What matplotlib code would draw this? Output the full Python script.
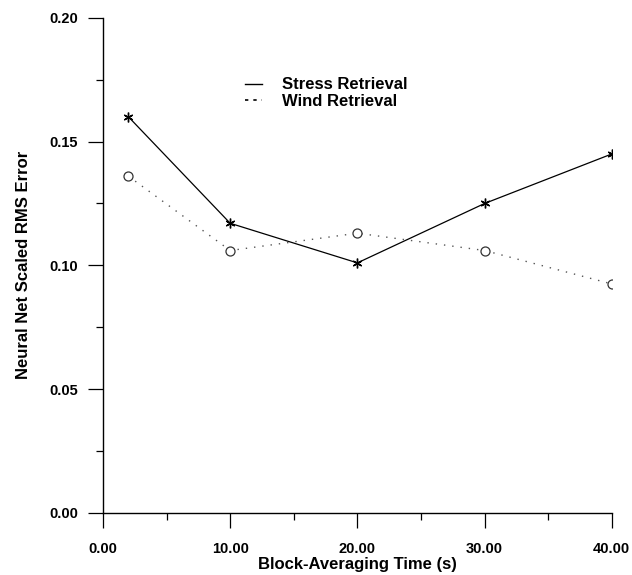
import numpy as np
import matplotlib
matplotlib.use('Agg')
import matplotlib.pyplot as plt
from matplotlib.lines import Line2D
from matplotlib.ticker import MultipleLocator, FormatStrFormatter

plt.rcParams['font.family'] = ['Liberation Sans', 'DejaVu Sans']

# block-averaging time (s)
block_time = [2, 10, 20, 30, 40]
stress_err = [0.160, 0.117, 0.101, 0.125, 0.145]
wind_err = [0.136, 0.106, 0.113, 0.106, 0.0925]

fig = plt.figure(figsize=(6.32, 5.75), dpi=100)
ax = fig.add_axes([0.163, 0.108, 0.805, 0.861])

ax.plot(block_time, stress_err, color='black', lw=0.9,
        marker=(6, 2, 0), ms=7, mew=1.0)
ax.plot(block_time, wind_err, color='#555555', lw=1.0, ls=(0, (1, 5)),
        marker='o', ms=6.5, mfc='white', mec='#333333', mew=0.9)

ax.set_xlim(0, 40)
ax.set_ylim(0, 0.20)
ax.xaxis.set_major_locator(MultipleLocator(10))
ax.xaxis.set_minor_locator(MultipleLocator(5))
ax.yaxis.set_major_locator(MultipleLocator(0.05))
ax.yaxis.set_minor_locator(MultipleLocator(0.025))
ax.xaxis.set_major_formatter(FormatStrFormatter('%.2f'))
ax.yaxis.set_major_formatter(FormatStrFormatter('%.2f'))

for s in ['top', 'right']:
    ax.spines[s].set_visible(False)
for s in ['left', 'bottom']:
    ax.spines[s].set_linewidth(1.0)

ax.tick_params(axis='both', which='major', direction='out', length=11,
               width=0.9, labelsize=10.5, pad=7)
ax.tick_params(axis='x', which='major', pad=10)
ax.tick_params(axis='both', which='minor', direction='out', length=5, width=0.9)
for lab in ax.get_xticklabels() + ax.get_yticklabels():
    lab.set_fontweight('bold')

ax.set_xlabel('Block-Averaging Time (s)', fontsize=12, fontweight='bold', labelpad=1)
ax.set_ylabel('Neural Net Scaled RMS Error', fontsize=12, fontweight='bold', labelpad=13)

handles = [Line2D([], [], color='black', lw=1.0),
           Line2D([], [], color='black', lw=1.2, ls=(0, (2, 3)))]
ax.legend(handles, ['Stress Retrieval', 'Wind Retrieval'], loc='upper left',
          bbox_to_anchor=(0.25, 0.91), frameon=False, handlelength=1.0,
          handletextpad=1.2, labelspacing=0.1,
          prop={'size': 12, 'weight': 'bold'})

fig.savefig('out.png', dpi=100)
